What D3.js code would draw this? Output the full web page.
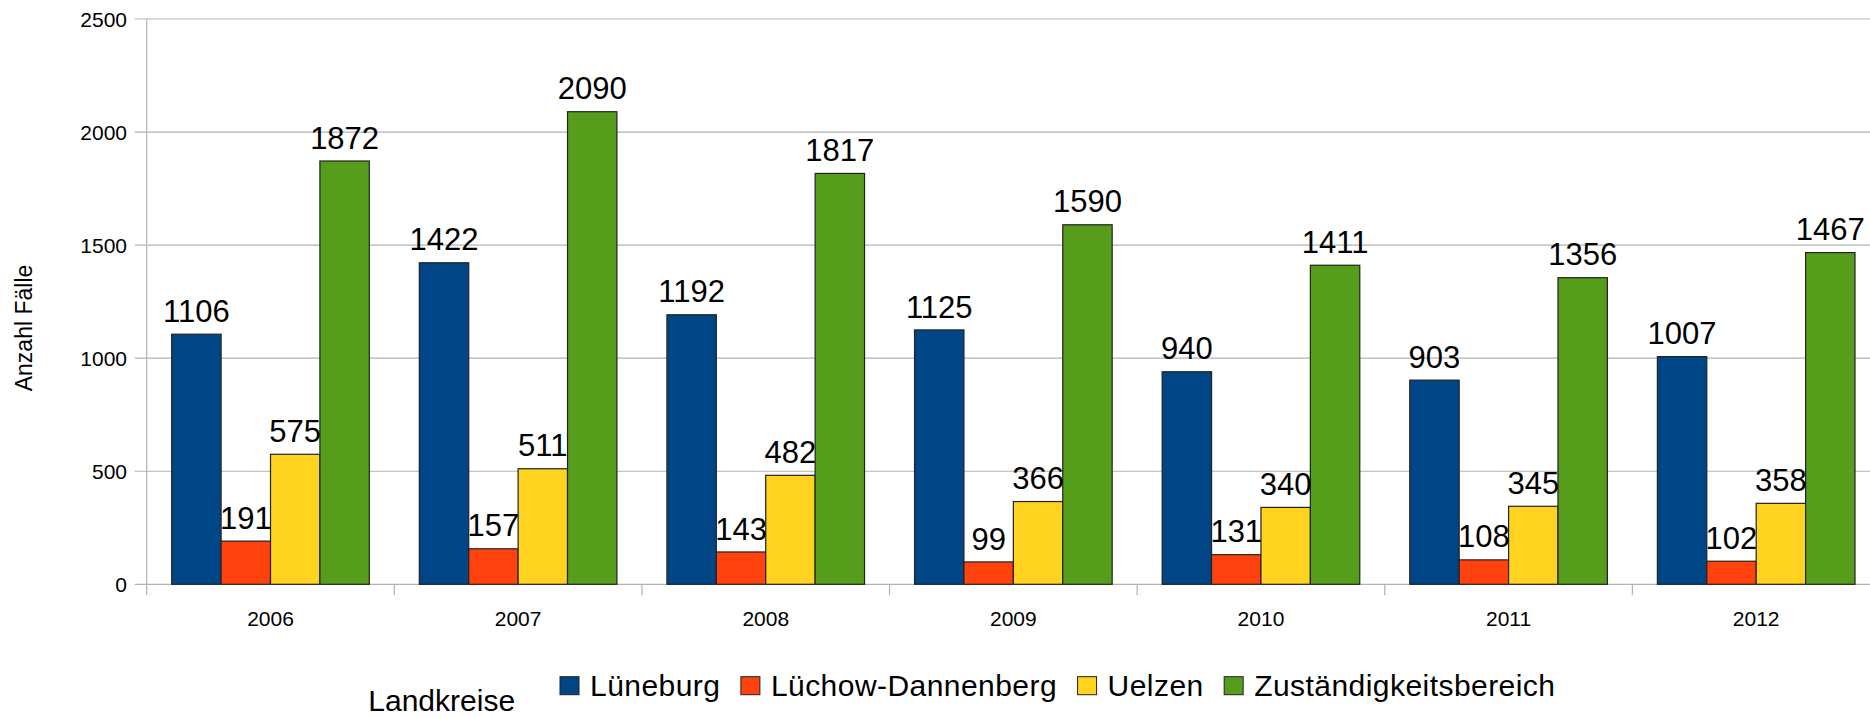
<!DOCTYPE html>
<html>
<head>
<meta charset="utf-8">
<script src="https://cdn.jsdelivr.net/npm/d3@7"></script>
<style>
  html, body { margin: 0; padding: 0; background: #ffffff; }
  svg { display: block; font-family: "Liberation Sans", Arial, sans-serif; }
</style>
</head>
<body>
<svg id="chart" width="1870" height="717"></svg>
<script>
const years = ["2006", "2007", "2008", "2009", "2010", "2011", "2012"];
const seriesNames = ["Lüneburg", "Lüchow-Dannenberg", "Uelzen", "Zuständigkeitsbereich"];
const lueneburg = [1106, 1422, 1192, 1125, 940, 903, 1007];
const luechowDannenberg = [191, 157, 143, 99, 131, 108, 102];
const uelzen = [575, 511, 482, 366, 340, 345, 358];
const zustaendigkeitsbereich = [1872, 2090, 1817, 1590, 1411, 1356, 1467];
const yTicks = [0, 500, 1000, 1500, 2000, 2500];
const colors = ["#004586", "#ff420e", "#ffd320", "#579d1c"];
const yTitle = "Anzahl Fälle";
const legendTitle = "Landkreise";

const seriesValues = [lueneburg, luechowDannenberg, uelzen, zustaendigkeitsbereich];

const svg = d3.select("#chart");
const plotLeft = 146.7, plotRight = 1880, plotTop = 19, plotBottom = 584.3;

const x = d3.scaleBand().domain(years).range([plotLeft, plotRight]).paddingInner(0).paddingOuter(0);
const xs = d3.scaleBand().domain(seriesNames).range([25, x.bandwidth() - 25]).padding(0);
const y = d3.scaleLinear().domain([0, 2500]).range([plotBottom, plotTop]);

const gridColor = "#b3b3b3";

// gridlines
svg.append("g").selectAll("line").data(yTicks).join("line")
  .attr("x1", plotLeft - 12).attr("x2", plotRight)
  .attr("y1", d => y(d)).attr("y2", d => y(d))
  .attr("stroke", gridColor).attr("stroke-width", 1.2);

// y axis line
svg.append("line").attr("x1", plotLeft).attr("x2", plotLeft)
  .attr("y1", plotTop).attr("y2", plotBottom + 11)
  .attr("stroke", gridColor).attr("stroke-width", 1.2);

// category ticks
const bounds = years.map(d => x(d)).concat([plotRight]);
svg.append("g").selectAll("line").data(bounds.slice(1)).join("line")
  .attr("x1", d => d).attr("x2", d => d)
  .attr("y1", plotBottom).attr("y2", plotBottom + 11)
  .attr("stroke", gridColor).attr("stroke-width", 1.2);

// y tick labels
svg.append("g").selectAll("text").data(yTicks).join("text")
  .attr("x", 127).attr("y", d => y(d)).attr("dy", "0.36em")
  .attr("text-anchor", "end").attr("font-size", 21).attr("fill", "#000")
  .text(d => d);

// x labels
svg.append("g").selectAll("text").data(years).join("text")
  .attr("x", d => x(d) + x.bandwidth() / 2).attr("y", 625.7)
  .attr("text-anchor", "middle").attr("font-size", 21).attr("fill", "#000")
  .text(d => d);

// bars
const flat = [];
years.forEach((yr, i) => {
  seriesNames.forEach((s, j) => {
    flat.push({ year: yr, series: s, value: seriesValues[j][i], color: colors[j] });
  });
});

svg.append("g").selectAll("rect").data(flat).join("rect")
  .attr("x", d => x(d.year) + xs(d.series))
  .attr("y", d => y(d.value))
  .attr("width", xs.bandwidth())
  .attr("height", d => y(0) - y(d.value))
  .attr("fill", d => d.color)
  .attr("stroke", "#222").attr("stroke-width", 1.2);

// value labels
svg.append("g").selectAll("text").data(flat).join("text")
  .attr("x", d => x(d.year) + xs(d.series) + xs.bandwidth() / 2)
  .attr("y", d => y(d.value) - 12.4)
  .attr("text-anchor", "middle").attr("font-size", 31).attr("fill", "#000")
  .text(d => d.value);

// y title
svg.append("text")
  .attr("transform", "translate(32.3,328) rotate(-90)")
  .attr("text-anchor", "middle").attr("font-size", 23).attr("fill", "#000")
  .text(yTitle);

// legend
svg.append("text").attr("x", 368.3).attr("y", 710.5)
  .attr("font-size", 30).attr("fill", "#000").text(legendTitle);

let lx = 560;
seriesNames.forEach((s, j) => {
  svg.append("rect").attr("x", lx).attr("y", 676.7).attr("width", 19).attr("height", 18)
    .attr("fill", colors[j]).attr("stroke", "#222").attr("stroke-width", 1);
  const t = svg.append("text").attr("x", lx + 30).attr("y", 695.7)
    .attr("font-size", 30).attr("letter-spacing", 0.45).attr("fill", "#000").text(s);
  const w = t.node().getComputedTextLength();
  lx = lx + 30 + w + 20.5;
});
</script>
</body>
</html>
